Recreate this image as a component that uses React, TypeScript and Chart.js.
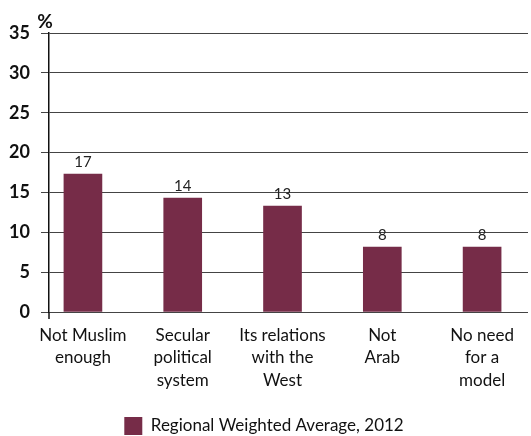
import React, { useEffect, useRef } from "react";
import { Chart, registerables } from "chart.js";
Chart.register(...registerables);

const categories: string[][] = [
  ["Not Muslim", "enough"],
  ["Secular", "political", "system"],
  ["Its relations", "with the", "West"],
  ["Not", "Arab"],
  ["No need", "for a", "model"],
];
const values = [17.3, 14.3, 13.3, 8.15, 8.15];
const yTicks = [0, 5, 10, 15, 20, 25, 30, 35];
const seriesLabel = "Regional Weighted Average, 2012";
const unitLabel = "%";

const BAR = "#762c48";
const FONT = "Lato, 'Open Sans', sans-serif";

export default function App() {
  const ref = useRef<HTMLCanvasElement | null>(null);
  useEffect(() => {
    document.body.style.margin = "0";
    const extras = {
      id: "extras",
      afterDatasetsDraw(chart: any) {
        const ctx = chart.ctx;
        const meta = chart.getDatasetMeta(0);
        ctx.save();
        ctx.fillStyle = "#222";
        ctx.font = `15px ${FONT}`;
        ctx.textAlign = "center";
        ctx.textBaseline = "middle";
        meta.data.forEach((el: any, i: number) => {
          ctx.fillText(String(Math.round(values[i])), el.x, el.y - 12);
        });
        const ca = chart.chartArea;
        ctx.font = `bold 19px ${FONT}`;
        ctx.fillStyle = "#111";
        ctx.fillText(unitLabel, ca.left - 4, ca.top - 11);
        ctx.strokeStyle = "#111";
        ctx.lineWidth = 1.5;
        ctx.beginPath();
        ctx.moveTo(ca.left, ca.bottom);
        ctx.lineTo(ca.left, ca.bottom + 7);
        ctx.stroke();
        ctx.restore();
      },
    };
    const chart = new Chart(ref.current!, {
      type: "bar",
      data: {
        datasets: [
          {
            label: seriesLabel,
            data: values.map((v, i) => ({ x: i, y: v })),
            backgroundColor: BAR,
            barThickness: 38,
          },
        ],
      },
      options: {
        animation: false,
        responsive: true,
        maintainAspectRatio: false,
        layout: { padding: { top: 33, right: 3, left: 0, bottom: 0 } },
        plugins: {
          tooltip: { enabled: false },
          legend: {
            position: "bottom",
            maxHeight: 19,
            labels: {
              boxWidth: 18,
              boxHeight: 18,
              color: "#111",
              font: { family: FONT, size: 17 },
              padding: 0,
            },
          },
        },
        scales: {
          x: {
            type: "linear",
            offset: false,
            min: -0.34,
            max: 4.46,
            grid: { display: false, drawTicks: false, offset: false },
            border: { display: false },
            afterBuildTicks: (s: any) => {
              s.ticks = categories.map((_, i) => ({ value: i }));
            },
            afterFit: (s: any) => {
              s.height = 105;
            },
            ticks: {
              autoSkip: false,
              maxRotation: 0,
              padding: 12,
              color: "#111",
              font: { family: FONT, size: 17, lineHeight: 1.33 },
              callback: (v: any) => categories[v] ?? "",
            },
          },
          y: {
            min: 0,
            max: 35,
            afterBuildTicks: (s: any) => {
              s.ticks = yTicks.map((v) => ({ value: v }));
            },
            afterFit: (s: any) => {
              s.width = 49;
            },
            grid: { color: "#444", lineWidth: 1, tickLength: 8 },
            border: { display: true, color: "#111", width: 1.5 },
            ticks: {
              padding: 11,
              color: "#111",
              font: { family: FONT, size: 18, weight: "bold" },
            },
          },
        },
      },
      plugins: [extras],
    } as any);
    return () => chart.destroy();
  }, []);
  return (
    <div style={{ width: 531, height: 436, position: "relative" }}>
      <canvas ref={ref} />
    </div>
  );
}
